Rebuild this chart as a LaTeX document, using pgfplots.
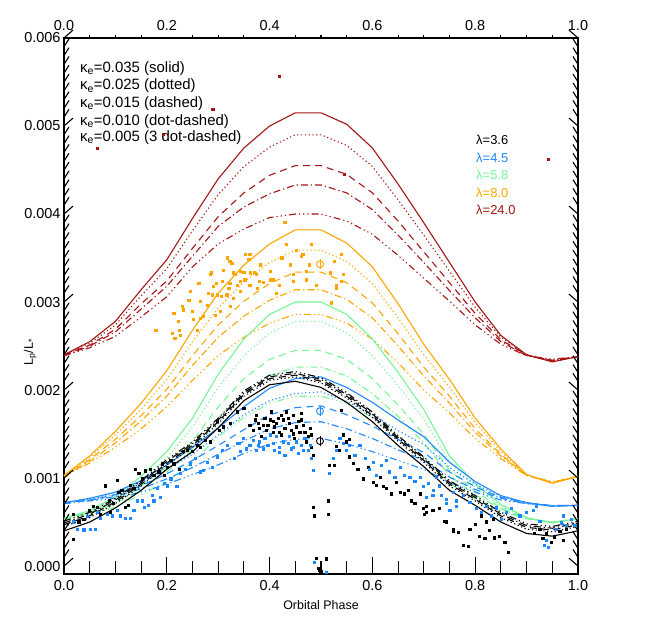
\documentclass[border=0pt]{standalone}
\usepackage{fontspec}
\setmainfont{Liberation Sans}
\usepackage{pgfplots}
\usepackage{pgfplotstable}
\pgfplotsset{compat=1.18}

\definecolor{cblue}{RGB}{30,136,255}
\definecolor{cgreen}{RGB}{120,245,150}
\definecolor{corange}{RGB}{255,165,0}
\definecolor{cred}{RGB}{165,20,20}

% model curves: a=0.035 solid, b=0.025 dotted, c=0.015 dashed, d=0.010 dot-dashed, e=0.005 3 dot-dashed
\pgfplotstableread{
ph a b c d e
0.00 0.00240 0.00240 0.00240 0.00239 0.00239
0.05 0.00255 0.00253 0.00251 0.00250 0.00248
0.10 0.00278 0.00274 0.00269 0.00266 0.00261
0.15 0.00314 0.00307 0.00298 0.00292 0.00283
0.20 0.00348 0.00338 0.00324 0.00318 0.00306
0.25 0.00395 0.00381 0.00361 0.00352 0.00340
0.30 0.00440 0.00422 0.00397 0.00386 0.00366
0.35 0.00475 0.00454 0.00424 0.00408 0.00383
0.40 0.00500 0.00476 0.00444 0.00423 0.00396
0.45 0.00515 0.00490 0.00455 0.00433 0.00400
0.50 0.00515 0.00490 0.00455 0.00433 0.00400
0.55 0.00502 0.00478 0.00445 0.00424 0.00392
0.60 0.00475 0.00454 0.00424 0.00405 0.00377
0.65 0.00434 0.00416 0.00392 0.00376 0.00353
0.70 0.00390 0.00376 0.00357 0.00345 0.00327
0.75 0.00345 0.00335 0.00322 0.00313 0.00301
0.80 0.00300 0.00294 0.00287 0.00282 0.00274
0.85 0.00262 0.00260 0.00257 0.00255 0.00252
0.90 0.00240 0.00240 0.00240 0.00239 0.00239
0.95 0.00232 0.00233 0.00233 0.00234 0.00235
1.00 0.00238 0.00238 0.00238 0.00238 0.00238
}\tred

\pgfplotstableread{
ph a b c d e
0.00 0.00103 0.00103 0.00102 0.00102 0.00102
0.05 0.00125 0.00123 0.00121 0.00119 0.00117
0.10 0.00153 0.00149 0.00144 0.00140 0.00135
0.15 0.00185 0.00178 0.00171 0.00165 0.00156
0.20 0.00222 0.00212 0.00201 0.00193 0.00181
0.25 0.00268 0.00255 0.00239 0.00228 0.00211
0.30 0.00310 0.00293 0.00274 0.00260 0.00239
0.35 0.00342 0.00323 0.00301 0.00284 0.00260
0.40 0.00366 0.00345 0.00321 0.00302 0.00276
0.45 0.00382 0.00359 0.00334 0.00314 0.00286
0.50 0.00382 0.00359 0.00334 0.00314 0.00286
0.55 0.00367 0.00346 0.00322 0.00303 0.00276
0.60 0.00340 0.00321 0.00299 0.00282 0.00258
0.65 0.00298 0.00282 0.00264 0.00250 0.00231
0.70 0.00252 0.00240 0.00226 0.00216 0.00200
0.75 0.00212 0.00203 0.00193 0.00185 0.00174
0.80 0.00168 0.00163 0.00156 0.00152 0.00145
0.85 0.00133 0.00130 0.00127 0.00125 0.00122
0.90 0.00104 0.00104 0.00103 0.00103 0.00103
0.95 0.00094 0.00094 0.00095 0.00095 0.00096
1.00 0.00102 0.00102 0.00102 0.00102 0.00101
}\torange

\pgfplotstableread{
ph a b c d e
0.00 0.00054 0.00054 0.00054 0.00053 0.00053
0.05 0.00063 0.00062 0.00061 0.00060 0.00058
0.10 0.00079 0.00077 0.00073 0.00071 0.00067
0.15 0.00102 0.00098 0.00091 0.00087 0.00081
0.20 0.00130 0.00123 0.00113 0.00107 0.00096
0.25 0.00168 0.00158 0.00142 0.00133 0.00118
0.30 0.00218 0.00203 0.00181 0.00168 0.00147
0.35 0.00258 0.00239 0.00213 0.00196 0.00169
0.40 0.00286 0.00265 0.00235 0.00216 0.00185
0.45 0.00300 0.00278 0.00245 0.00226 0.00193
0.50 0.00300 0.00278 0.00245 0.00226 0.00193
0.55 0.00286 0.00265 0.00235 0.00216 0.00185
0.60 0.00258 0.00239 0.00213 0.00196 0.00169
0.65 0.00220 0.00205 0.00183 0.00170 0.00148
0.70 0.00178 0.00167 0.00150 0.00140 0.00124
0.75 0.00125 0.00118 0.00109 0.00103 0.00094
0.80 0.00094 0.00090 0.00085 0.00081 0.00076
0.85 0.00070 0.00068 0.00066 0.00065 0.00062
0.90 0.00055 0.00055 0.00054 0.00054 0.00054
0.95 0.00049 0.00049 0.00050 0.00050 0.00050
1.00 0.00054 0.00054 0.00054 0.00053 0.00053
}\tgreen

\pgfplotstableread{
ph a b c d e
0.00 0.00072 0.00072 0.00072 0.00071 0.00071
0.05 0.00077 0.00076 0.00075 0.00075 0.00074
0.10 0.00084 0.00082 0.00081 0.00079 0.00077
0.15 0.00097 0.00094 0.00091 0.00088 0.00084
0.20 0.00115 0.00110 0.00105 0.00099 0.00093
0.25 0.00135 0.00127 0.00120 0.00112 0.00104
0.30 0.00157 0.00149 0.00137 0.00127 0.00115
0.35 0.00181 0.00172 0.00155 0.00142 0.00128
0.40 0.00202 0.00188 0.00172 0.00156 0.00139
0.45 0.00213 0.00196 0.00180 0.00163 0.00144
0.50 0.00215 0.00198 0.00182 0.00164 0.00145
0.55 0.00203 0.00187 0.00172 0.00156 0.00139
0.60 0.00186 0.00172 0.00159 0.00145 0.00130
0.65 0.00166 0.00154 0.00144 0.00132 0.00120
0.70 0.00147 0.00138 0.00129 0.00120 0.00110
0.75 0.00118 0.00112 0.00107 0.00101 0.00095
0.80 0.00096 0.00093 0.00090 0.00087 0.00084
0.85 0.00080 0.00079 0.00078 0.00077 0.00075
0.90 0.00072 0.00072 0.00072 0.00071 0.00071
0.95 0.00068 0.00068 0.00068 0.00069 0.00069
1.00 0.00069 0.00069 0.00069 0.00069 0.00069
}\tblue

\pgfplotstableread{
ph a b c d e
0.00 0.00040 0.00045 0.00047 0.00049 0.00051
0.05 0.00050 0.00055 0.00057 0.00059 0.00061
0.10 0.00066 0.00071 0.00073 0.00075 0.00077
0.15 0.00086 0.00091 0.00093 0.00095 0.00097
0.20 0.00110 0.00115 0.00117 0.00119 0.00121
0.25 0.00130 0.00135 0.00137 0.00139 0.00141
0.30 0.00157 0.00162 0.00164 0.00166 0.00168
0.35 0.00188 0.00193 0.00195 0.00197 0.00199
0.40 0.00206 0.00211 0.00213 0.00215 0.00217
0.45 0.00210 0.00215 0.00217 0.00219 0.00221
0.50 0.00203 0.00208 0.00210 0.00212 0.00214
0.55 0.00186 0.00191 0.00193 0.00195 0.00197
0.60 0.00164 0.00169 0.00171 0.00173 0.00175
0.65 0.00137 0.00142 0.00144 0.00146 0.00148
0.70 0.00113 0.00118 0.00120 0.00122 0.00124
0.75 0.00086 0.00091 0.00093 0.00095 0.00097
0.80 0.00069 0.00074 0.00076 0.00078 0.00080
0.85 0.00050 0.00055 0.00057 0.00059 0.00061
0.90 0.00037 0.00042 0.00044 0.00046 0.00048
0.95 0.00034 0.00039 0.00041 0.00043 0.00045
1.00 0.00040 0.00045 0.00047 0.00049 0.00051
}\tblack

\pgfplotsset{
  k1/.style={solid},
  k2/.style={dash pattern=on 1.2bp off 2.6bp},
  k3/.style={dash pattern=on 7bp off 5bp},
  k4/.style={dash pattern=on 7bp off 3bp on 1.2bp off 3bp},
  k5/.style={dash pattern=on 7bp off 3bp on 1.2bp off 3bp on 1.2bp off 3bp on 1.2bp off 3bp},
  pts/.style={#1, only marks, mark=square*, mark size=1.1bp, mark options={solid, line width=0pt}},
}

\newcommand{\fivecurves}[2]{%
  \addplot[#1, line width=1.1bp, k1] table[x=ph, y=a] {#2};
  \addplot[#1, line width=1.1bp, k2] table[x=ph, y=b] {#2};
  \addplot[#1, line width=1.1bp, k3] table[x=ph, y=c] {#2};
  \addplot[#1, line width=1.1bp, k4] table[x=ph, y=d] {#2};
  \addplot[#1, line width=1.1bp, k5] table[x=ph, y=e] {#2};
}

\begin{document}
\begin{tikzpicture}
\useasboundingbox (-64bp,-61bp) rectangle (594bp,574bp);
\begin{axis}[
  at={(0,0)}, anchor=south west,
  width=514bp, height=536bp, scale only axis,
  xmin=0, xmax=1, ymin=-0.00009, ymax=0.006,
  clip=false,
  xtick={0,0.2,0.4,0.6,0.8,1},
  ytick={0,0.001,0.002,0.003,0.004,0.005,0.006},
  minor tick num=0,
  tick style={draw=none},
  axis line style={line width=1.2bp},
  scaled y ticks=false,
  /pgf/number format/assume math mode=true,
  y tick label style={/pgf/number format/.cd, fixed, fixed zerofill, precision=3, /tikz/.cd},
  x tick label style={/pgf/number format/.cd, fixed, fixed zerofill, precision=1, /tikz/.cd, yshift=-3bp},
  tick label style={font=\fontsize{14.5}{16}\selectfont},
  xlabel={Orbital Phase},
  ylabel={L\textsubscript{p}/L\textsubscript{*}},
  label style={font=\fontsize{12.5}{14}\selectfont},
  xlabel style={at={(axis description cs:0.5,-0.058)}, anchor=center},
  ylabel style={at={(axis description cs:-0.066,0.414)}, anchor=center},
]

% observed points, 3.6 micron
\addplot[pts=black] coordinates {
(0.018,0.00030)(0.019,0.00059)(0.029,0.00050)(0.039,0.00053)(0.049,0.00063)(0.058,0.00068)
(0.065,0.00067)(0.071,0.00059)(0.081,0.00091)(0.088,0.00074)(0.091,0.00061)(0.097,0.00071)
(0.104,0.00097)(0.107,0.00084)(0.113,0.00086)(0.120,0.00067)(0.126,0.00069)(0.130,0.00092)
(0.136,0.00088)(0.139,0.00110)(0.146,0.00105)(0.152,0.00099)(0.159,0.00108)(0.169,0.00110)
(0.175,0.00103)(0.185,0.00107)(0.191,0.00116)(0.195,0.00103)(0.201,0.00112)(0.208,0.00120)
(0.214,0.00116)(0.224,0.00110)(0.233,0.00130)(0.240,0.00131)(0.250,0.00130)(0.259,0.00137)
(0.266,0.00135)(0.276,0.00143)(0.285,0.00141)(0.298,0.00164)(0.302,0.00154)(0.311,0.00158)
(0.324,0.00162)(0.337,0.00175)(0.350,0.00179)
(0.362,0.00160)(0.368,0.00154)(0.372,0.00166)(0.378,0.00162)(0.385,0.00147)(0.388,0.00160)
(0.394,0.00154)(0.401,0.00166)(0.404,0.00175)(0.407,0.00164)(0.410,0.00158)(0.417,0.00168)
(0.420,0.00152)(0.423,0.00149)(0.427,0.00166)(0.433,0.00175)(0.439,0.00162)(0.443,0.00154)
(0.446,0.00171)(0.449,0.00145)(0.456,0.00164)(0.462,0.00166)(0.462,0.00173)(0.469,0.00152)
(0.472,0.00141)(0.479,0.00156)(0.482,0.00135)(0.485,0.00126)
(0.375,0.00171)(0.381,0.00156)(0.397,0.00160)(0.414,0.00162)(0.430,0.00156)(0.436,0.00168)
(0.453,0.00158)(0.459,0.00152)(0.475,0.00147)(0.482,0.00149)(0.466,0.00160)(0.391,0.00168)
(0.407,0.00152)(0.423,0.00171)(0.446,0.00150)
(0.486,0.00067)(0.488,0.00057)(0.514,0.00059)(0.514,0.00074)(0.491,0.00009)(0.510,0.00008)
(0.495,-0.00003)(0.498,-0.00005)(0.500,-0.00006)
(0.517,0.00114)(0.527,0.00114)(0.530,0.00136)(0.536,0.00131)(0.540,0.00177)(0.543,0.00149)
(0.550,0.00141)(0.556,0.00124)(0.556,0.00144)(0.563,0.00117)(0.572,0.00110)(0.582,0.00099)
(0.592,0.00112)(0.602,0.00095)(0.608,0.00092)(0.615,0.00101)(0.621,0.00090)(0.628,0.00088)
(0.637,0.00082)(0.647,0.00095)(0.654,0.00084)(0.663,0.00082)(0.670,0.00086)(0.676,0.00074)
(0.683,0.00071)(0.693,0.00082)(0.702,0.00059)(0.705,0.00068)(0.718,0.00063)(0.731,0.00065)
(0.744,0.00050)(0.757,0.00039)(0.767,0.00038)
(0.699,0.00065)(0.706,0.00061)(0.741,0.00051)(0.757,0.00042)(0.777,0.00023)(0.787,0.00022)
(0.790,0.00042)(0.800,0.00047)(0.809,0.00034)(0.819,0.00031)(0.828,0.00040)(0.838,0.00032)
(0.848,0.00034)(0.858,0.00027)(0.864,0.00015)(0.812,0.00057)(0.835,0.00053)(0.822,0.00050)
(0.916,0.00037)(0.926,0.00042)(0.932,0.00031)(0.939,0.00037)(0.948,0.00027)(0.955,0.00033)
(0.965,0.00039)(0.971,0.00029)(0.978,0.00042)
};

% observed points, 4.5 micron
\addplot[pts=cblue] coordinates {
(0.019,0.00050)(0.026,0.00042)(0.039,0.00041)(0.045,0.00056)(0.052,0.00042)(0.062,0.00042)
(0.065,0.00061)(0.071,0.00054)(0.084,0.00059)(0.094,0.00057)(0.104,0.00063)(0.110,0.00057)
(0.120,0.00054)(0.130,0.00054)(0.136,0.00063)(0.143,0.00074)(0.152,0.00074)(0.156,0.00067)
(0.165,0.00069)(0.172,0.00080)(0.175,0.00074)(0.182,0.00088)(0.188,0.00078)(0.195,0.00094)
(0.201,0.00091)(0.208,0.00099)(0.220,0.00090)(0.227,0.00105)(0.237,0.00110)(0.246,0.00116)
(0.256,0.00122)(0.266,0.00107)(0.272,0.00109)(0.279,0.00118)(0.289,0.00112)(0.298,0.00124)
(0.308,0.00131)(0.318,0.00137)(0.331,0.00122)(0.337,0.00139)(0.344,0.00130)
(0.342,0.00139)(0.355,0.00133)(0.368,0.00143)(0.378,0.00137)(0.388,0.00133)(0.391,0.00145)
(0.401,0.00149)(0.407,0.00139)(0.414,0.00147)(0.420,0.00135)(0.430,0.00126)(0.436,0.00139)
(0.439,0.00147)(0.446,0.00135)(0.456,0.00128)(0.462,0.00137)(0.469,0.00145)(0.475,0.00131)
(0.482,0.00122)(0.485,0.00109)(0.488,0.00004)(0.510,-0.00007)
(0.349,0.00145)(0.362,0.00137)(0.381,0.00141)(0.397,0.00137)(0.410,0.00131)(0.427,0.00141)
(0.443,0.00133)(0.453,0.00141)(0.466,0.00131)(0.479,0.00137)(0.375,0.00131)(0.420,0.00129)
(0.517,0.00105)(0.524,0.00122)(0.530,0.00131)(0.537,0.00145)(0.543,0.00139)(0.550,0.00131)
(0.556,0.00137)(0.566,0.00126)(0.576,0.00137)(0.586,0.00122)(0.595,0.00110)(0.602,0.00118)
(0.608,0.00103)(0.618,0.00114)(0.628,0.00120)(0.634,0.00107)(0.644,0.00101)(0.654,0.00112)
(0.663,0.00103)(0.673,0.00101)(0.683,0.00096)(0.693,0.00101)(0.699,0.00090)(0.709,0.00094)
(0.718,0.00080)(0.725,0.00101)(0.735,0.00080)(0.744,0.00071)(0.751,0.00063)(0.757,0.00084)
(0.764,0.00074)
(0.706,0.00078)(0.719,0.00086)(0.731,0.00091)(0.744,0.00076)(0.764,0.00068)(0.777,0.00080)
(0.790,0.00072)(0.802,0.00065)(0.812,0.00061)(0.822,0.00068)(0.832,0.00057)(0.841,0.00066)
(0.851,0.00053)(0.861,0.00061)(0.870,0.00065)(0.887,0.00057)(0.900,0.00061)(0.913,0.00063)
(0.919,0.00068)(0.926,0.00051)(0.935,0.00023)(0.939,0.00029)(0.942,0.00021)(0.958,0.00042)
(0.968,0.00049)(0.971,0.00057)(0.978,0.00046)(0.987,0.00053)(0.994,0.00046)
};

% observed points, 8.0 micron
\addplot[pts=corange] coordinates {
(0.179,0.00268)(0.211,0.00264)(0.214,0.00287)(0.216,0.00259)(0.222,0.00278)(0.224,0.00268)
(0.227,0.00262)(0.230,0.00295)(0.232,0.00291)(0.243,0.00302)(0.246,0.00312)(0.250,0.00289)
(0.252,0.00280)(0.259,0.00268)(0.261,0.00321)(0.263,0.00321)(0.265,0.00301)(0.266,0.00281)
(0.271,0.00284)(0.279,0.00296)(0.281,0.00310)(0.285,0.00331)(0.287,0.00333)(0.289,0.00308)
(0.291,0.00318)(0.295,0.00285)(0.297,0.00321)(0.298,0.00308)(0.304,0.00289)(0.307,0.00306)
(0.308,0.00323)(0.311,0.00336)(0.317,0.00308)(0.318,0.00350)(0.321,0.00315)(0.323,0.00321)
(0.323,0.00346)(0.324,0.00295)(0.327,0.00344)(0.330,0.00304)(0.330,0.00333)(0.334,0.00331)
(0.337,0.00319)(0.343,0.00335)(0.343,0.00312)(0.344,0.00323)(0.350,0.00334)(0.352,0.00325)
(0.353,0.00354)(0.360,0.00348)(0.362,0.00354)(0.362,0.00319)(0.363,0.00333)(0.370,0.00334)
(0.375,0.00331)(0.376,0.00315)(0.381,0.00323)(0.383,0.00342)(0.388,0.00322)(0.401,0.00335)
(0.401,0.00325)(0.407,0.00325)(0.414,0.00310)(0.420,0.00319)(0.424,0.00350)(0.430,0.00390)
(0.433,0.00365)(0.440,0.00342)(0.446,0.00331)(0.446,0.00323)(0.452,0.00359)(0.462,0.00352)
(0.465,0.00354)(0.472,0.00335)(0.472,0.00325)(0.478,0.00342)(0.482,0.00365)(0.492,0.00319)
(0.518,0.00333)(0.521,0.00299)(0.527,0.00346)(0.530,0.00319)(0.530,0.00315)(0.540,0.00354)
(0.540,0.00323)(0.543,0.00331)
};

% observed points, 24 micron
\addplot[pts=cred] coordinates {
(0.065,0.00474)(0.193,0.00490)(0.290,0.00519)(0.419,0.00556)(0.545,0.00445)(0.942,0.00462)
};

% binned points with error bars
\addplot[corange, only marks, mark=o, mark size=3.5bp, line width=0.9bp,
  error bars/.cd, y dir=both, y explicit, error mark=none,
  error bar style={line width=0.9bp}]
  coordinates {(0.498,0.00343) +- (0,0.00006)};
\addplot[cblue, only marks, mark=o, mark size=3.5bp, line width=0.9bp,
  error bars/.cd, y dir=both, y explicit, error mark=none,
  error bar style={line width=0.9bp}]
  coordinates {(0.498,0.00176) +- (0,0.00006)};
\addplot[black, only marks, mark=o, mark size=3.5bp, line width=0.9bp,
  error bars/.cd, y dir=both, y explicit, error mark=none,
  error bar style={line width=0.9bp}]
  coordinates {(0.498,0.00142) +- (0,0.00006)};

% model curves
\fivecurves{cred}{\tred}
\fivecurves{corange}{\torange}
\fivecurves{cgreen}{\tgreen}
\fivecurves{cblue}{\tblue}
\fivecurves{black}{\tblack}

% tick marks on all four sides, pointing inwards
\pgfplotsinvokeforeach{0,0.2,0.4,0.6,0.8,1}{
  \draw[line width=1.1bp] (axis cs:#1,-0.00009) -- ++(0,9bp);
  \draw[line width=1.1bp] (axis cs:#1,0.006) -- ++(0,-9bp);
}
\pgfplotsinvokeforeach{0.05,0.1,0.15,0.25,0.3,0.35,0.45,0.5,0.55,0.65,0.7,0.75,0.85,0.9,0.95}{
  \draw[line width=1.1bp] (axis cs:#1,-0.00009) -- ++(0,5bp);
  \draw[line width=1.1bp] (axis cs:#1,0.006) -- ++(0,-5bp);
}
\pgfplotsinvokeforeach{0,0.001,0.002,0.003,0.004,0.005,0.006}{
  \draw[line width=1.1bp] (axis cs:0,#1) -- ++(9bp,0);
  \draw[line width=1.1bp] (axis cs:1,#1) -- ++(-9bp,0);
}
\pgfplotsinvokeforeach{0.0001,0.0002,0.0003,0.0004,0.0005,0.0006,0.0007,0.0008,0.0009,
  0.0011,0.0012,0.0013,0.0014,0.0015,0.0016,0.0017,0.0018,0.0019,
  0.0021,0.0022,0.0023,0.0024,0.0025,0.0026,0.0027,0.0028,0.0029,
  0.0031,0.0032,0.0033,0.0034,0.0035,0.0036,0.0037,0.0038,0.0039,
  0.0041,0.0042,0.0043,0.0044,0.0045,0.0046,0.0047,0.0048,0.0049,
  0.0051,0.0052,0.0053,0.0054,0.0055,0.0056,0.0057,0.0058,0.0059}{
  \draw[line width=1.1bp] (axis cs:0,#1) -- ++(5bp,0);
  \draw[line width=1.1bp] (axis cs:1,#1) -- ++(-5bp,0);
}

% annotations
\begin{scope}[every node/.style={anchor=base west, inner sep=0pt, font=\fontsize{15}{17}\selectfont}]
\node at (axis cs:0.031,0.00561) {κ\textsubscript{e}=0.035 (solid)};
\node at (axis cs:0.031,0.00541) {κ\textsubscript{e}=0.025 (dotted)};
\node at (axis cs:0.031,0.00521) {κ\textsubscript{e}=0.015 (dashed)};
\node at (axis cs:0.031,0.00501) {κ\textsubscript{e}=0.010 (dot-dashed)};
\node at (axis cs:0.031,0.00482) {κ\textsubscript{e}=0.005 (3 dot-dashed)};
\end{scope}
\begin{scope}[every node/.style={anchor=base west, inner sep=0pt, font=\fontsize{13}{15}\selectfont}]
\node[text=black]   at (axis cs:0.8016,0.004789) {λ=3.6};
\node[text=cblue]   at (axis cs:0.8016,0.004590) {λ=4.5};
\node[text=cgreen]  at (axis cs:0.8016,0.004390) {λ=5.8};
\node[text=corange] at (axis cs:0.8016,0.004191) {λ=8.0};
\node[text=cred]    at (axis cs:0.8016,0.003991) {λ=24.0};
\end{scope}
% tick labels along the top
\begin{scope}[every node/.style={anchor=base, inner sep=0pt, font=\fontsize{14.5}{16}\selectfont}]
\node at ([yshift=7bp]rel axis cs:0,1) {0.0};
\node at ([yshift=7bp]rel axis cs:0.2,1) {0.2};
\node at ([yshift=7bp]rel axis cs:0.4,1) {0.4};
\node at ([yshift=7bp]rel axis cs:0.6,1) {0.6};
\node at ([yshift=7bp]rel axis cs:0.8,1) {0.8};
\node at ([yshift=7bp]rel axis cs:1,1) {1.0};
\end{scope}
\end{axis}
\end{tikzpicture}
\end{document}
